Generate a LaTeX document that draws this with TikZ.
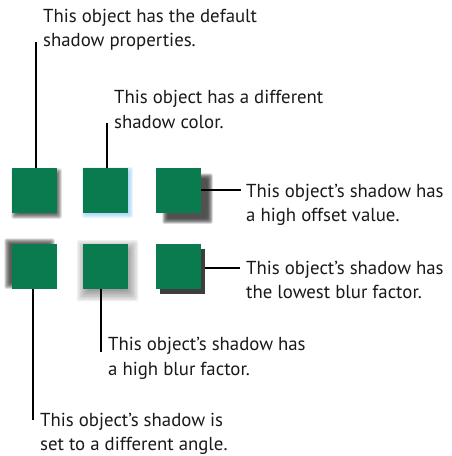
\documentclass[tikz,border=0pt]{standalone}
\usepackage{fontspec}
\setmainfont{PT Sans}
\definecolor{sqgreen}{RGB}{9,123,78}
\definecolor{shd}{RGB}{40,40,40}
\definecolor{crisp}{RGB}{62,62,62}
\definecolor{glow}{RGB}{140,200,240}
\definecolor{txt}{RGB}{25,25,25}
% #1 x1, #2 y1, #3 x2, #4 y2 (square corners), #5 dx, #6 dy, #7 blur radius, #8 colour, #9 opacity per step
\newcommand\softshadow[9]{%
  \foreach \k in {1,...,12}{%
    \pgfmathsetmacro\ee{-#7+2*#7*(\k-0.5)/12}%
    \fill[#8, fill opacity=#9, rounded corners=1.5pt]
      ({#1+#5-(\ee)},{#2+#6-(\ee)}) rectangle ({#3+#5+(\ee)},{#4+#6+(\ee)});
  }}
\begin{document}
\begin{tikzpicture}[x=1pt,y=-1pt,
  sq/.style={draw=none, fill=sqgreen, minimum size=45pt, inner sep=0pt, outer sep=0pt},
  lbl/.style={anchor=base west, align=left, inner sep=0pt, font=\fontsize{18.8}{24.5}\selectfont, text=txt},
  conn/.style={line width=1.1pt, draw=black}]
\useasboundingbox (0,0) rectangle (451,456);
% shadows
\softshadow{12}{168}{57}{213}{2}{3}{3}{shd}{0.1}
\softshadow{83}{168}{128}{213}{2}{2}{3.5}{glow}{0.12}
\softshadow{156}{168}{201}{213}{9}{8}{3}{shd}{0.13}
\softshadow{12}{244}{57}{289}{-5}{-3}{3}{shd}{0.11}
\softshadow{83}{244}{128}{289}{2}{4}{9}{shd}{0.07}
\fill[crisp] (160,249) rectangle (205,294);
% squares
\node[sq] (s1) at (34.5,190.5) {};
\node[sq] (s2) at (105.5,190.5) {};
\node[sq] (s3) at (178.5,190.5) {};
\node[sq] (s4) at (34.5,266.5) {};
\node[sq] (s5) at (105.5,266.5) {};
\node[sq] (s6) at (178.5,266.5) {};
% labels (anchor = baseline of the last line)
\node[lbl] (t1) at (43,46.5) {This object has the default\\shadow properties.};
\node[lbl] (t2) at (114,128) {This object has a different\\shadow color.};
\node[lbl] (t3) at (246,221.5) {This object’s shadow has\\a high offset value.};
\node[lbl] (t4) at (246,298.5) {This object’s shadow has\\the lowest blur factor.};
\node[lbl] (t5) at (108,375) {This object’s shadow has\\a high blur factor.};
\node[lbl] (t6) at (40,450.5) {This object’s shadow is\\set to a different angle.};
% connector ends
\coordinate (c1) at (36,42);
\coordinate (c2) at (107,123);
\coordinate (c3) at (241,190);
\coordinate (c4) at (240,268);
\coordinate (c5) at (101,352);
\coordinate (c6) at (33,420);
\draw[conn] (c1 |- s1.north) -- (c1);
\draw[conn] (c2 |- s2.north) -- (c2);
\draw[conn] (s3.east |- c3) -- (c3);
\draw[conn] ([xshift=4pt]s6.east |- c4) -- (c4);
\draw[conn] (c5 |- s5.south) -- (c5);
\draw[conn] (c6 |- s4.south) -- (c6);
\end{tikzpicture}
\end{document}
